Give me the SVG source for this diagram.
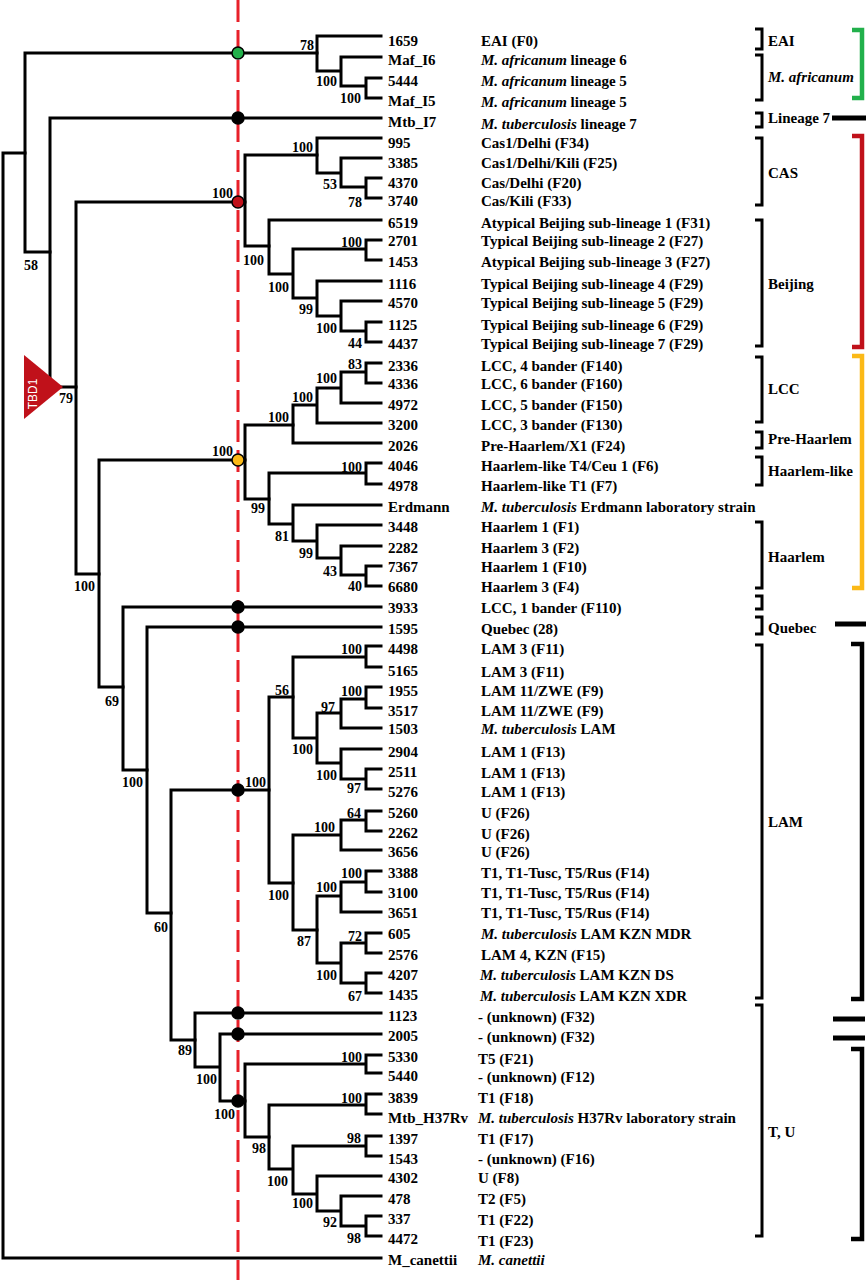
<svg xmlns="http://www.w3.org/2000/svg" width="868" height="1280" viewBox="0 0 868 1280">
<style>
.br{fill:none;stroke:#000;stroke-width:3;stroke-linecap:square;stroke-linejoin:miter}
.bs{font-family:"Liberation Serif","Times New Roman",serif;font-weight:bold;font-size:14px;fill:#000;text-anchor:end}
.id{font-family:"Liberation Serif","Times New Roman",serif;font-weight:bold;font-size:15px;fill:#000}
.ds{font-family:"Liberation Serif","Times New Roman",serif;font-weight:bold;font-size:15px;fill:#000}
.it{font-style:italic}
.gl{font-family:"Liberation Serif","Times New Roman",serif;font-weight:bold;font-size:15px;fill:#000}
.ib{fill:none;stroke:#000;stroke-width:3}
.ob{fill:none;stroke-width:4.5}
.dot{stroke:#000;stroke-width:1.5}
</style>
<rect width="868" height="1280" fill="#fff"/>
<g id="connectors">
<path class="br" d="M3,153V1258M3,1258H381M3,153H25"/>
<path class="br" d="M25,53V252M25,53H317M25,252H50"/>
<path class="br" d="M317,36V71M317,36H381M317,71H341M341,57V86M341,57H381M341,86H366M366,78V98M366,78H381M366,98H381"/>
<path class="br" d="M50,118V387M50,118H381M50,387H76"/>
<path class="br" d="M76,202V574M76,202H245M76,574H99"/>
<path class="br" d="M245,155V246M245,155H317M245,246H269"/>
<path class="br" d="M317,138V173M317,138H381M317,173H341M341,158V187M341,158H381M341,187H366M366,178V198M366,178H381M366,198H381"/>
<path class="br" d="M269,220V274M269,220H381M269,274H293M293,249V298M293,249H366M366,240V260M366,240H381M366,260H381M293,298H317M317,281V316M317,281H381M317,316H341M341,301V331M341,301H381M341,331H366M366,322V342M366,322H381M366,342H381"/>
<path class="br" d="M99,460V687M99,460H245M99,687H123"/>
<path class="br" d="M245,425V499M245,425H293M245,499H269"/>
<path class="br" d="M293,405V443M293,405H317M293,443H381M317,388V423M317,388H341M317,423H381M341,372V403M341,372H366M341,403H381M366,363V383M366,363H381M366,383H381"/>
<path class="br" d="M269,473V524M269,473H366M366,463V484M366,463H381M366,484H381M269,524H293M293,505V541M293,505H381M293,541H317M317,525V558M317,525H381M317,558H341M341,546V575M341,546H381M341,575H366M366,566V586M366,566H381M366,586H381"/>
<path class="br" d="M123,607V770M123,607H381M123,770H147"/>
<path class="br" d="M147,627V913M147,627H381M147,913H171"/>
<path class="br" d="M171,790V1040M171,790H269M171,1040H195"/>
<path class="br" d="M269,697V883M269,697H293M269,883H293"/>
<path class="br" d="M293,657V738M293,657H366M366,646V667M366,646H381M366,667H381M293,738H317M317,713V763M317,713H341M341,699V728M341,699H366M366,687V708M366,687H381M366,708H381M341,728H381M317,763H341M341,749V779M341,749H381M341,779H366M366,769V789M366,769H381M366,789H381"/>
<path class="br" d="M293,835V930M293,835H341M341,820V850M341,820H366M366,811V831M366,811H381M366,831H381M341,850H381M293,930H317"/>
<path class="br" d="M317,896V963M317,896H341M341,882V912M341,882H366M366,871V892M366,871H381M366,892H381M341,912H381M317,963H341M341,943V983M341,943H366M366,933V953M366,933H381M366,953H381M341,983H366M366,973V993M366,973H381M366,993H381"/>
<path class="br" d="M195,1013V1067M195,1013H381M195,1067H220M220,1034V1101M220,1034H381M220,1101H245"/>
<path class="br" d="M245,1064V1137M245,1064H366M366,1055V1073M366,1055H381M366,1073H381M245,1137H269"/>
<path class="br" d="M269,1105V1169M269,1105H366M366,1094V1114M366,1094H381M366,1114H381M269,1169H293M293,1146V1194M293,1146H366M366,1136V1156M366,1136H381M366,1156H381M293,1194H317M317,1176V1211M317,1176H381M317,1211H341M341,1196V1226M341,1196H381M341,1226H366M366,1216V1236M366,1216H381M366,1236H381"/>
</g>
<g id="tbd1">
<polygon points="24,355 24,419 63,387" fill="#c0111a"/>
<text transform="translate(37,394) rotate(-90)" text-anchor="middle" font-family="Liberation Sans, Arial, sans-serif" font-size="12" fill="#fff">TBD1</text>
</g>
<g id="cutoff-line">
<line x1="238" y1="0" x2="238" y2="1280" stroke="#e8202a" stroke-width="3" stroke-dasharray="22 8"/>
</g>
<g id="markers">
<circle class="dot" cx="238" cy="53" r="6" fill="#22b04b"/>
<circle class="dot" cx="238" cy="118" r="6" fill="#000"/>
<circle class="dot" cx="238" cy="202" r="6" fill="#c0111a"/>
<circle class="dot" cx="238" cy="460" r="6" fill="#fbb917"/>
<circle class="dot" cx="238" cy="607" r="6" fill="#000"/>
<circle class="dot" cx="238" cy="627" r="6" fill="#000"/>
<circle class="dot" cx="238" cy="790" r="6" fill="#000"/>
<circle class="dot" cx="238" cy="1013" r="6" fill="#000"/>
<circle class="dot" cx="238" cy="1034" r="6" fill="#000"/>
<circle class="dot" cx="238" cy="1101" r="6" fill="#000"/>
</g>
<g id="bootstrap">
<text class="bs" x="314" y="50">78</text>
<text class="bs" x="337" y="86">100</text>
<text class="bs" x="361" y="103">100</text>
<text class="bs" x="313" y="152">100</text>
<text class="bs" x="337" y="189">53</text>
<text class="bs" x="362" y="207">78</text>
<text class="bs" x="233" y="198">100</text>
<text class="bs" x="38" y="270" text-anchor="middle">58</text>
<text class="bs" x="362" y="247">100</text>
<text class="bs" x="264" y="265">100</text>
<text class="bs" x="289" y="292">100</text>
<text class="bs" x="313" y="314">99</text>
<text class="bs" x="337" y="333">100</text>
<text class="bs" x="362" y="348">44</text>
<text class="bs" x="362" y="369">83</text>
<text class="bs" x="337" y="383">100</text>
<text class="bs" x="313" y="402">100</text>
<text class="bs" x="289" y="422">100</text>
<text class="bs" x="73" y="403">79</text>
<text class="bs" x="233" y="456">100</text>
<text class="bs" x="362" y="472">100</text>
<text class="bs" x="265" y="513">99</text>
<text class="bs" x="289" y="541">81</text>
<text class="bs" x="313" y="558">99</text>
<text class="bs" x="337" y="576">43</text>
<text class="bs" x="362" y="591">40</text>
<text class="bs" x="95" y="591">100</text>
<text class="bs" x="119" y="706">69</text>
<text class="bs" x="362" y="654">100</text>
<text class="bs" x="289" y="695">56</text>
<text class="bs" x="362" y="696">100</text>
<text class="bs" x="335" y="712">97</text>
<text class="bs" x="313" y="754">100</text>
<text class="bs" x="337" y="780">100</text>
<text class="bs" x="361" y="793">97</text>
<text class="bs" x="266" y="787">100</text>
<text class="bs" x="143" y="787">100</text>
<text class="bs" x="361" y="818">64</text>
<text class="bs" x="335" y="832">100</text>
<text class="bs" x="362" y="878">100</text>
<text class="bs" x="337" y="892">100</text>
<text class="bs" x="289" y="900">100</text>
<text class="bs" x="311" y="946">87</text>
<text class="bs" x="362" y="941">72</text>
<text class="bs" x="337" y="980">100</text>
<text class="bs" x="362" y="1001">67</text>
<text class="bs" x="168" y="932">60</text>
<text class="bs" x="192" y="1055">89</text>
<text class="bs" x="362" y="1062">100</text>
<text class="bs" x="217" y="1084">100</text>
<text class="bs" x="235" y="1119">100</text>
<text class="bs" x="362" y="1103">100</text>
<text class="bs" x="266" y="1153">98</text>
<text class="bs" x="361" y="1143">98</text>
<text class="bs" x="288" y="1186">100</text>
<text class="bs" x="313" y="1208">100</text>
<text class="bs" x="337" y="1227">92</text>
<text class="bs" x="361" y="1243">98</text>
</g>
<g id="n1659"><text class="id" x="388" y="46">1659</text><text class="ds" x="481" y="46">EAI (F0)</text></g>
<g id="nMaf_I6"><text class="id" x="388" y="65">Maf_I6</text><text class="ds" x="481" y="65"><tspan class="it">M. africanum</tspan> lineage 6</text></g>
<g id="n5444"><text class="id" x="388" y="86">5444</text><text class="ds" x="481" y="86"><tspan class="it">M. africanum</tspan> lineage 5</text></g>
<g id="nMaf_I5"><text class="id" x="388" y="106">Maf_I5</text><text class="ds" x="481" y="107"><tspan class="it">M. africanum</tspan> lineage 5</text></g>
<g id="nMtb_I7"><text class="id" x="388" y="127">Mtb_I7</text><text class="ds" x="481" y="129"><tspan class="it">M. tuberculosis</tspan> lineage 7</text></g>
<g id="n995"><text class="id" x="388" y="148">995</text><text class="ds" x="481" y="148">Cas1/Delhi (F34)</text></g>
<g id="n3385"><text class="id" x="388" y="168">3385</text><text class="ds" x="481" y="168">Cas1/Delhi/Kili (F25)</text></g>
<g id="n4370"><text class="id" x="388" y="188">4370</text><text class="ds" x="481" y="188">Cas/Delhi (F20)</text></g>
<g id="n3740"><text class="id" x="388" y="206">3740</text><text class="ds" x="481" y="206">Cas/Kili (F33)</text></g>
<g id="n6519"><text class="id" x="388" y="228">6519</text><text class="ds" x="481" y="228">Atypical Beijing sub-lineage 1 (F31)</text></g>
<g id="n2701"><text class="id" x="388" y="246">2701</text><text class="ds" x="481" y="246">Typical Beijing sub-lineage 2 (F27)</text></g>
<g id="n1453"><text class="id" x="388" y="267">1453</text><text class="ds" x="481" y="267">Atypical Beijing sub-lineage 3 (F27)</text></g>
<g id="n1116"><text class="id" x="388" y="289">1116</text><text class="ds" x="481" y="289">Typical Beijing sub-lineage 4 (F29)</text></g>
<g id="n4570"><text class="id" x="388" y="308">4570</text><text class="ds" x="481" y="308">Typical Beijing sub-lineage 5 (F29)</text></g>
<g id="n1125"><text class="id" x="388" y="330">1125</text><text class="ds" x="481" y="330">Typical Beijing sub-lineage 6 (F29)</text></g>
<g id="n4437"><text class="id" x="388" y="349">4437</text><text class="ds" x="481" y="349">Typical Beijing sub-lineage 7 (F29)</text></g>
<g id="n2336"><text class="id" x="388" y="371">2336</text><text class="ds" x="481" y="371">LCC, 4 bander (F140)</text></g>
<g id="n4336"><text class="id" x="388" y="389">4336</text><text class="ds" x="481" y="389">LCC, 6 bander (F160)</text></g>
<g id="n4972"><text class="id" x="388" y="410">4972</text><text class="ds" x="481" y="410">LCC, 5 bander (F150)</text></g>
<g id="n3200"><text class="id" x="388" y="430">3200</text><text class="ds" x="481" y="430">LCC, 3 bander (F130)</text></g>
<g id="n2026"><text class="id" x="388" y="451">2026</text><text class="ds" x="481" y="451">Pre-Haarlem/X1 (F24)</text></g>
<g id="n4046"><text class="id" x="388" y="471">4046</text><text class="ds" x="481" y="471">Haarlem-like T4/Ceu 1 (F6)</text></g>
<g id="n4978"><text class="id" x="388" y="491">4978</text><text class="ds" x="481" y="491">Haarlem-like T1 (F7)</text></g>
<g id="nErdmann"><text class="id" x="388" y="512">Erdmann</text><text class="ds" x="481" y="512"><tspan class="it">M. tuberculosis</tspan> Erdmann laboratory strain</text></g>
<g id="n3448"><text class="id" x="388" y="532">3448</text><text class="ds" x="481" y="532">Haarlem 1 (F1)</text></g>
<g id="n2282"><text class="id" x="388" y="553">2282</text><text class="ds" x="481" y="553">Haarlem 3 (F2)</text></g>
<g id="n7367"><text class="id" x="388" y="572">7367</text><text class="ds" x="481" y="572">Haarlem 1 (F10)</text></g>
<g id="n6680"><text class="id" x="388" y="592">6680</text><text class="ds" x="481" y="592">Haarlem 3 (F4)</text></g>
<g id="n3933"><text class="id" x="388" y="613">3933</text><text class="ds" x="481" y="613">LCC, 1 bander (F110)</text></g>
<g id="n1595"><text class="id" x="388" y="634">1595</text><text class="ds" x="481" y="634">Quebec (28)</text></g>
<g id="n4498"><text class="id" x="388" y="654">4498</text><text class="ds" x="481" y="654">LAM 3 (F11)</text></g>
<g id="n5165"><text class="id" x="388" y="676">5165</text><text class="ds" x="481" y="677">LAM 3 (F11)</text></g>
<g id="n1955"><text class="id" x="388" y="696">1955</text><text class="ds" x="481" y="696">LAM 11/ZWE (F9)</text></g>
<g id="n3517"><text class="id" x="388" y="716">3517</text><text class="ds" x="481" y="716">LAM 11/ZWE (F9)</text></g>
<g id="n1503"><text class="id" x="388" y="734">1503</text><text class="ds" x="481" y="734"><tspan class="it">M. tuberculosis</tspan> LAM</text></g>
<g id="n2904"><text class="id" x="388" y="757">2904</text><text class="ds" x="481" y="757">LAM 1 (F13)</text></g>
<g id="n2511"><text class="id" x="388" y="777">2511</text><text class="ds" x="481" y="778">LAM 1 (F13)</text></g>
<g id="n5276"><text class="id" x="388" y="797">5276</text><text class="ds" x="481" y="797">LAM 1 (F13)</text></g>
<g id="n5260"><text class="id" x="388" y="818">5260</text><text class="ds" x="481" y="818">U (F26)</text></g>
<g id="n2262"><text class="id" x="388" y="838">2262</text><text class="ds" x="481" y="839">U (F26)</text></g>
<g id="n3656"><text class="id" x="388" y="857">3656</text><text class="ds" x="481" y="857">U (F26)</text></g>
<g id="n3388"><text class="id" x="388" y="878">3388</text><text class="ds" x="481" y="878">T1, T1-Tusc, T5/Rus (F14)</text></g>
<g id="n3100"><text class="id" x="388" y="898">3100</text><text class="ds" x="481" y="898">T1, T1-Tusc, T5/Rus (F14)</text></g>
<g id="n3651"><text class="id" x="388" y="918">3651</text><text class="ds" x="481" y="918">T1, T1-Tusc, T5/Rus (F14)</text></g>
<g id="n605"><text class="id" x="388" y="939">605</text><text class="ds" x="481" y="939"><tspan class="it">M. tuberculosis</tspan> LAM KZN MDR</text></g>
<g id="n2576"><text class="id" x="388" y="960">2576</text><text class="ds" x="481" y="960">LAM 4, KZN (F15)</text></g>
<g id="n4207"><text class="id" x="388" y="980">4207</text><text class="ds" x="480" y="980"><tspan class="it">M. tuberculosis</tspan> LAM KZN DS</text></g>
<g id="n1435"><text class="id" x="388" y="1000">1435</text><text class="ds" x="480" y="1001"><tspan class="it">M. tuberculosis</tspan> LAM KZN XDR</text></g>
<g id="n1123"><text class="id" x="388" y="1021">1123</text><text class="ds" x="478" y="1022">- (unknown) (F32)</text></g>
<g id="n2005"><text class="id" x="388" y="1041">2005</text><text class="ds" x="478" y="1042">- (unknown) (F32)</text></g>
<g id="n5330"><text class="id" x="388" y="1062">5330</text><text class="ds" x="478" y="1064">T5 (F21)</text></g>
<g id="n5440"><text class="id" x="388" y="1081">5440</text><text class="ds" x="478" y="1082">- (unknown) (F12)</text></g>
<g id="n3839"><text class="id" x="388" y="1103">3839</text><text class="ds" x="478" y="1103">T1 (F18)</text></g>
<g id="nMtb_H37Rv"><text class="id" x="388" y="1123">Mtb_H37Rv</text><text class="ds" x="478" y="1123"><tspan class="it">M. tuberculosis</tspan> H37Rv laboratory strain</text></g>
<g id="n1397"><text class="id" x="388" y="1144">1397</text><text class="ds" x="478" y="1144">T1 (F17)</text></g>
<g id="n1543"><text class="id" x="388" y="1164">1543</text><text class="ds" x="478" y="1164">- (unknown) (F16)</text></g>
<g id="n4302"><text class="id" x="388" y="1183">4302</text><text class="ds" x="478" y="1183">U (F8)</text></g>
<g id="n478"><text class="id" x="388" y="1204">478</text><text class="ds" x="478" y="1204">T2 (F5)</text></g>
<g id="n337"><text class="id" x="388" y="1224">337</text><text class="ds" x="478" y="1225">T1 (F22)</text></g>
<g id="n4472"><text class="id" x="388" y="1244">4472</text><text class="ds" x="478" y="1246">T1 (F23)</text></g>
<g id="nM_canettii"><text class="id" x="388" y="1265">M_canettii</text><text class="ds it" x="478" y="1265">M. canettii</text></g>
<g id="groups">
<path class="ib" d="M755,29H762V49H755"/><text class="gl" x="768" y="46">EAI</text>
<path class="ib" d="M755,55H762V100H755"/><text class="gl it" x="768" y="82">M. africanum</text>
<path class="ib" d="M755,113H762V127H755"/><text class="gl" x="768" y="123">Lineage 7</text>
<path class="ib" d="M755,138H762V205H755"/><text class="gl" x="768" y="178">CAS</text>
<path class="ib" d="M755,220H762V346H755"/><text class="gl" x="768" y="289">Beijing</text>
<path class="ib" d="M755,357H762V422H755"/><text class="gl" x="768" y="394">LCC</text>
<path class="ib" d="M755,432H762V448H755"/><text class="gl" x="768" y="444">Pre-Haarlem</text>
<path class="ib" d="M755,457H762V485H755"/><text class="gl" x="768" y="476">Haarlem-like</text>
<path class="ib" d="M755,522H762V588H755"/><text class="gl" x="768" y="562">Haarlem</text>
<path class="ib" d="M755,596H762V609H755"/>
<path class="ib" d="M755,617H762V634H755"/><text class="gl" x="768" y="633">Quebec</text>
<path class="ib" d="M755,645H762V998H755"/><text class="gl" x="768" y="827">LAM</text>
<path class="ib" d="M755,1005H762V1236H755"/><text class="gl" x="768" y="1137">T, U</text>
</g>
<g id="lineages">
<path class="ob" stroke="#22b04b" d="M852,30H862V98H852"/>
<line x1="832" y1="118" x2="866" y2="118" stroke="#000" stroke-width="5"/>
<path class="ob" stroke="#c0111a" d="M852,136H862V347H852"/>
<path class="ob" stroke="#fbb917" d="M852,356H862V588H852"/>
<line x1="835" y1="624" x2="866" y2="624" stroke="#000" stroke-width="5"/>
<path class="ob" stroke="#000" stroke-width="5" d="M851,644H862V999H851"/>
<line x1="833" y1="1019" x2="865" y2="1019" stroke="#000" stroke-width="5"/>
<line x1="833" y1="1038" x2="865" y2="1038" stroke="#000" stroke-width="5"/>
<path class="ob" stroke="#000" stroke-width="5" d="M851,1049H862V1239H851"/>
</g>
</svg>
